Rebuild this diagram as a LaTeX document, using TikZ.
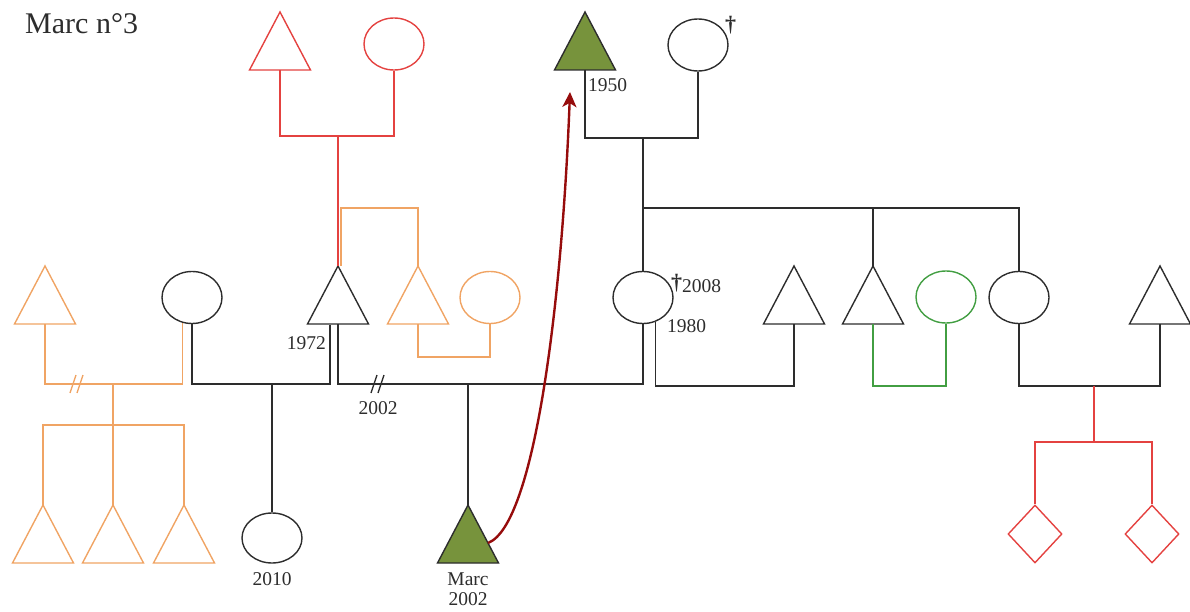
\documentclass[tikz,border=0pt]{standalone}
\usepackage{fontspec}
\setmainfont{Liberation Serif}
\usetikzlibrary{shapes.geometric,arrows.meta}

\definecolor{kinblack}{RGB}{45,45,45}
\definecolor{kinred}{RGB}{228,66,64}
\definecolor{kinorange}{RGB}{240,164,100}
\definecolor{kingreen}{RGB}{66,158,66}
\definecolor{olivefill}{RGB}{119,147,60}
\definecolor{arrowred}{RGB}{150,12,12}

\tikzset{
  lw/.style={line width=1.4pt},
  kinline/.style={lw, draw=kinblack},
  redline/.style={lw, draw=kinred},
  orangeline/.style={lw, draw=kinorange},
  greenline/.style={lw, draw=kingreen},
  % male: isosceles triangle, apex up
  tri/.pic={
    \path[pic actions] (-30.5,29) -- (0,-29) -- (30.5,29) -- cycle;
    \coordinate (-apex) at (0,-29);
    \coordinate (-base) at (0,29);
    \coordinate (-side) at (20,9);
  },
  % divorce mark on a couple line
  brk/.pic={
    \path[pic actions] (-7,9) -- (-1,-9) (0,9) -- (6,-9);
  },
  fem/.style={ellipse, lw, draw=kinblack, minimum width=60pt, minimum height=52pt, inner sep=0pt},
  unk/.style={diamond, lw, draw=kinred, minimum width=54pt, minimum height=58pt, inner sep=0pt},
  lbl/.style={font=\fontsize{19.5}{22}\selectfont, inner sep=0pt, text=kinblack},
  dagger/.style={font=\fontsize{22}{24}\selectfont\bfseries},
}

\begin{document}
\begin{tikzpicture}[x=1pt,y=-1pt,line join=miter]
\useasboundingbox (0,0) rectangle (1190,612);

% ---------- title ----------
\node[anchor=base west, font=\fontsize{30}{34}\selectfont, inner sep=0pt, text=kinblack] (ttl) at (25,34) {Marc n°3};

% ---------- people ----------
% paternal grandparents
\pic[kinline, draw=kinred] (pgf) at (280,41) {tri};
\node[fem, draw=kinred] (pgm) at (394,44) {};
% maternal grandparents
\pic[kinline, fill=olivefill] (gf) at (585,41) {tri};
\node[fem] (gm) at (698,45) {};

% middle generation
\pic[kinline, draw=kinorange] (o1) at (45,295) {tri};
\node[fem] (ew) at (192,297.5) {};
\pic[kinline] (fa) at (338,295) {tri};
\pic[kinline, draw=kinorange] (ou) at (418,295) {tri};
\node[fem, draw=kinorange] (oa) at (490,297.5) {};
\node[fem] (mo) at (643,297.5) {};
\pic[kinline] (mp) at (794,295) {tri};
\pic[kinline] (un) at (873,295) {tri};
\node[fem, draw=kingreen] (gw) at (946,297) {};
\node[fem] (au) at (1019,297.5) {};
\pic[kinline] (ah) at (1160,295) {tri};

% children
\pic[kinline, draw=kinorange] (oc1) at (43,534) {tri};
\pic[kinline, draw=kinorange] (oc2) at (113,534) {tri};
\pic[kinline, draw=kinorange] (oc3) at (184,534) {tri};
\node[fem, minimum height=50pt] (d10) at (272,538) {};
\pic[kinline, fill=olivefill] (marc) at (468,534) {tri};
\node[unk] (dd1) at (1035,534) {};
\node[unk] (dd2) at (1152,534) {};

% ---------- junctions ----------
\coordinate (pgj) at (338,136);
\coordinate (osj) at (341,208);
\coordinate (gpj) at (643,138);
\coordinate (sib) at (643,208);
\coordinate (faL) at (330,325);
\coordinate (exm) at (272,384);
\coordinate (fmm) at (468,384);
\coordinate (mpm) at (794,386);
\coordinate (gwm) at (900,386);
\coordinate (aum) at (1094,386);
\coordinate (kj) at (1094,442);
\coordinate (oxm) at (113,384);
\coordinate (ocj) at (113,425);
\coordinate (oum) at (454,357);
\coordinate (tip) at (570,92);

% ---------- connectors ----------
% paternal side
\draw[redline] (pgf-base) -- (pgf-base |- pgj) -- (pgm.south |- pgj) -- (pgm.south);
\draw[redline] (pgj) -- (fa-apex);
\draw[orangeline] (osj |- fa-apex) -- (osj) -| (ou-apex);
\draw[orangeline] (ou-base) |- (oum) -| (oa.south);

% maternal side
\draw[kinline] (gf-base) -- (gf-base |- gpj) -- (gm.south |- gpj) -- (gm.south);
\draw[kinline] (gpj) -- (mo.north);
\draw[kinline] (sib) -| (au.north);
\draw[kinline] (un-apex |- sib) -- (un-apex);

% father's first union
\draw[kinline] (ew.south) |- (exm) -| (faL);
\draw[kinline] (exm) -- (d10.north);

% parents of Marc
\draw[kinline] (fa-base) |- (fmm) -| (mo.south);
\draw[kinline] (fmm) -- (marc-apex);
\pic[kinline] (brk1) at (378,384) {brk};

% mother's later union
\draw[kinline] (mo.-63) |- (mpm) -- (mp-base);

% uncle and aunt unions
\draw[greenline] (un-base) |- (gwm) -| (gw.south);
\draw[kinline] (au.south) |- (aum) -| (ah-base);
\draw[redline] (aum) -- (kj);
\draw[redline] (dd1.north) |- (kj) -| (dd2.north);

% ex-wife's other union
\draw[orangeline] (o1-base) |- (oxm) -| (ew.-110);
\draw[orangeline] (oxm) -- (oc2-apex);
\draw[orangeline] (oc1-apex) |- (ocj) -| (oc3-apex);
\pic[orangeline] (brk2) at (77,384) {brk};

% ---------- labels ----------
\node[lbl, anchor=west] (l1950) at (588,85) {1950};
\node[lbl, anchor=west, dagger] (dag1) at (725,25) {†};
\node[lbl, anchor=west] (l2008) at (671,283) {\raisebox{3pt}{\fontsize{22}{24}\selectfont\bfseries †}2008};
\node[lbl, anchor=west] (l1980) at (667,326) {1980};
\node[lbl, anchor=east] (l1972) at (326,343) {1972};
\node[lbl] (l2002) at (378,408) {2002};
\node[lbl] (l2010) at (272,579) {2010};
\node[lbl, align=center, font=\fontsize{19.5}{20.5}\selectfont] (lmarc) at (468,589) {Marc\\2002};

% ---------- link to the grandfather ----------
\draw[line width=2.4pt, draw=arrowred, -{Stealth[length=15pt,width=14pt,inset=4pt]}]
  (marc-side) .. controls (535,525) and (562,300) .. (tip);

\end{tikzpicture}
\end{document}
